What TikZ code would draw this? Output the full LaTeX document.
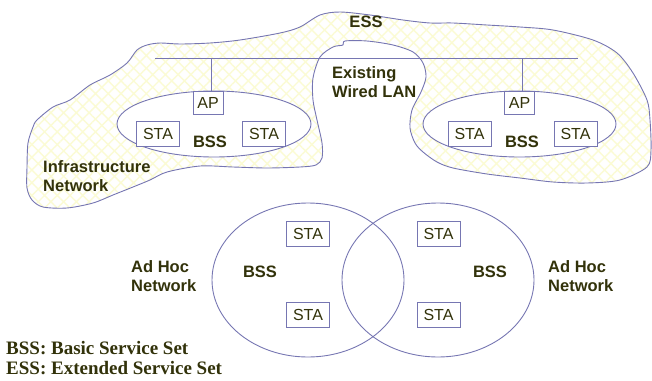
\documentclass[tikz,border=0pt]{standalone}
\usepackage{fontspec}
\setmainfont{Liberation Sans}
\newfontfamily\legendfont{Liberation Serif}
\usetikzlibrary{shapes.geometric,patterns.meta}
\definecolor{linec}{RGB}{118,118,178}
\definecolor{textc}{RGB}{50,50,10}
\definecolor{hatchc}{RGB}{251,251,212}
\tikzset{
  box/.style={draw=linec, line width=0.9pt, fill=white, inner sep=0pt,
    minimum height=25pt, minimum width=43pt,
    font=\fontsize{16}{19}\selectfont, text=textc},
  apbox/.style={box, minimum width=30pt, minimum height=23pt},
  bss/.style={draw=linec, line width=0.9pt, ellipse, inner sep=0pt},
  lbl/.style={font=\fontsize{16.5}{19}\selectfont\bfseries, text=textc, align=left, inner sep=0pt},
  legend/.style={font=\legendfont\bfseries\fontsize{19}{20}\selectfont, text=textc, inner sep=0pt, anchor=base west},
  wire/.style={draw=linec, line width=0.9pt},
}
\begin{document}
\begin{tikzpicture}[x=1pt,y=-1pt]
\useasboundingbox (0,0) rectangle (652,380);
% ESS cloud
\draw[linec, line width=0.9pt,
  preaction={fill=white},
  preaction={pattern={Hatch[angle=45,distance=9pt,line width=1.4pt]}, pattern color=hatchc}]
  plot[smooth cycle, tension=0.5] coordinates {
  (33,127) (37,120) (53,107) (70,100) (90,85) (110,75) (127,63) (137,50) (147,45)
  (160,43) (180,44) (210,43) (240,40) (280,33) (300,27) (320,15) (340,12) (370,15)
  (403,20) (430,23) (453,23) (487,25) (520,27) (553,30) (593,40) (617,53) (633,73)
  (647,100) (650,120) (651,150) (647,167) (620,180) (587,183) (553,182) (520,178)
  (487,174) (453,168) (437,162) (423,152) (415,143) (410,128) (412,110) (421,92)
  (426,77) (423,63) (413,52) (393,45) (367,41) (345,41) (343,45) (333,47) (320,57)
  (313,78) (313,100) (317,120) (322,143) (322,158) (316,165) (300,167) (267,168)
  (233,167) (200,166) (167,172) (150,180) (133,187) (113,195) (93,203) (67,208)
  (43,207) (32,200) (27,188) (27,167) (28,143)};
% wired LAN
\coordinate (lanL) at (155,58);
\coordinate (lanR) at (578,58);
\draw[wire] (lanL) -- (lanR);
% infrastructure BSSs
\node[bss, fill=white, minimum width=194pt, minimum height=66pt] (bss1) at (214,124) {};
\node[bss, fill=white, minimum width=193pt, minimum height=66pt] (bss2) at (519.5,124) {};
\node[apbox] (ap1) at (208,102.5) {AP};
\node[apbox] (ap2) at (519.5,102.5) {AP};
\draw[wire] ([xshift=3.5pt]ap1.north) -- ([xshift=3.5pt]ap1.north |- lanL);
\draw[wire] ([xshift=3pt]ap2.north) -- ([xshift=3pt]ap2.north |- lanL);
\node[box] (s1) at (158,133.5) {STA};
\node[box] (s2) at (264,133.5) {STA};
\node[box] (s3) at (469.5,134) {STA};
\node[box] (s4) at (575.5,134) {STA};
\node[lbl] (b1) at (210,142) {BSS};
\node[lbl] (b2) at (522,142) {BSS};
\node[lbl] (ess) at (366,22) {ESS};
\node[lbl, anchor=west] (ewl) at (332,82) {Existing\\Wired LAN};
\node[lbl, anchor=west] (infra) at (43,176) {Infrastructure\\Network};
% ad hoc BSSs
\node[bss, minimum width=192pt, minimum height=154pt] (ah1) at (308,280) {};
\node[bss, minimum width=192pt, minimum height=154pt] (ah2) at (438,280) {};
\node[box] (s5) at (308,233.5) {STA};
\node[box] (s6) at (308,315) {STA};
\node[box] (s7) at (438.5,233.5) {STA};
\node[box] (s8) at (438.5,315) {STA};
\node[lbl] (b3) at (260,272) {BSS};
\node[lbl] (b4) at (490,272) {BSS};
\node[lbl, anchor=west] (ah1l) at (131,276) {Ad Hoc\\Network};
\node[lbl, anchor=west] (ah2l) at (548,276) {Ad Hoc\\Network};
% legend
\node[legend] (leg1) at (6,354) {BSS: Basic Service Set};
\node[legend] (leg2) at (6,374) {ESS: Extended Service Set};
\end{tikzpicture}
\end{document}
